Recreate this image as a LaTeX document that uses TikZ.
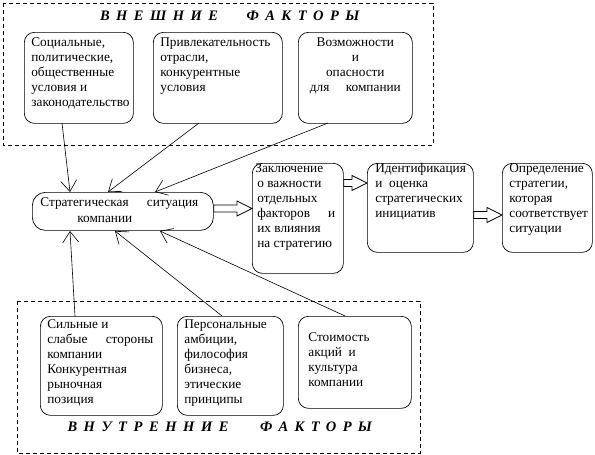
\documentclass[tikz,border=0pt]{standalone}
\usepackage{fontspec}
\setmainfont{Liberation Serif}
\usetikzlibrary{arrows.meta,calc}
\newcommand\tbox[3]{\begin{minipage}[t][#2][t]{#1}#3\end{minipage}}
\newcommand\spword[2]{\makebox[#1]{#2}}
\begin{document}
\begin{tikzpicture}[x=1pt,y=-1pt,
  box/.style={draw, rounded corners=10pt, anchor=north west, inner xsep=7pt, inner ysep=4pt, line width=0.7pt,
    font=\fontsize{13.3}{15}\selectfont},
  ttl/.style={font=\fontsize{14.5}{16}\selectfont\bfseries\itshape, inner sep=0pt},
  frame/.style={draw, dashed, dash pattern=on 4pt off 3pt, line width=0.6pt},
  link/.style={line width=0.6pt, -{Straight Barb[length=11pt,width=16pt,line width=0.6pt]}},
  blockarrow/.style={draw, line width=0.7pt, fill=white}]
\useasboundingbox (0,0) rectangle (595,455);
% frames
\draw[frame] (3,3) rectangle (433,145);
\draw[frame] (17,301) rectangle (420,453);
% titles
\node[ttl] (t1) at (159,16) {\spword{118pt}{В\hfill Н\hfill Е\hfill Ш\hfill Н\hfill И\hfill Е}};
\node[ttl] (t2) at (303,16) {\spword{113pt}{Ф\hfill А\hfill К\hfill Т\hfill О\hfill Р\hfill Ы}};
\node[ttl] (t3) at (148,427) {\spword{161pt}{В\hfill Н\hfill У\hfill Т\hfill Р\hfill Е\hfill Н\hfill Н\hfill И\hfill Е}};
\node[ttl] (t4) at (316,427) {\spword{112pt}{Ф\hfill А\hfill К\hfill Т\hfill О\hfill Р\hfill Ы}};
% external factor boxes
\node[box, inner ysep=5pt] (b1) at (24,32) {\tbox{95pt}{81pt}{Социальные,\\политические,\\общественные\\условия и\\законодательство}};
\node[box, inner ysep=5pt] (b2) at (153,32) {\tbox{115pt}{81pt}{Привлекательность\\отрасли,\\конкурентные\\условия}};
\node[box, inner ysep=5pt] (b3) at (298,32) {\tbox{100pt}{81pt}{\centering Возможности\\и\\опасности\\\makebox[91pt]{для\hfill компании}\par}};
% central box
\node[box, rounded corners=13pt, inner xsep=8pt, inner ysep=2pt] (c) at (32,192) {\tbox{165pt}{34pt}{\vspace*{3pt}\makebox[158pt]{Стратегическая\hfill ситуация}\\[1.5pt]\hspace*{37pt}компании}};
% right chain
\node[box, inner xsep=3pt, inner ysep=0pt] (d) at (252,163) {\tbox{85pt}{110pt}{Заключение\\\hspace*{2pt}о важности\\\hspace*{2pt}отдельных\\\hspace*{2pt}\makebox[78pt]{факторов\hfill и}\\\hspace*{2pt}их влияния\\\hspace*{2pt}на стратегию}};
\node[box, inner xsep=8pt, inner ysep=0pt] (e) at (367,163) {\tbox{90pt}{89pt}{Идентификация\\и\ \ оценка\\стратегических\\инициатив}};
\node[box, inner xsep=7pt, inner ysep=0pt] (f) at (502,163) {\tbox{76pt}{89pt}{Определение\\стратегии,\\которая\\соответствует\\ситуации}};
% internal factor boxes
\node[box, inner ysep=2pt] (g) at (40,316) {\tbox{108pt}{95pt}{\vspace*{1pt}Сильные и\\\makebox[106pt]{слабые\hfill стороны}\\компании\\Конкурентная\\рыночная\\позиция}};
\node[box, inner ysep=2pt] (h) at (177,316) {\tbox{92pt}{95pt}{\vspace*{1pt}Персональные\\амбиции,\\философия\\бизнеса,\\этические\\принципы}};
\node[box, inner xsep=10pt, inner ysep=2pt] (k) at (298,316) {\tbox{93pt}{88pt}{\vspace*{14pt}Стоимость\\акций\ \ и\\культура\\компании}};
% anchors for connectors
\coordinate (b1o) at (62,123);
\coordinate (b2o) at (199,123);
\coordinate (b3o) at (328,123);
\coordinate (c1) at (70,192);
\coordinate (c2) at (108,192);
\coordinate (c3) at (155,192);
\coordinate (c4) at (70,231);
\coordinate (c5) at (115,231);
\coordinate (c6) at (160,231);
\coordinate (go) at (75,316);
\coordinate (ho) at (222,316);
\coordinate (ko) at (345,316);
\draw[link] (b1o) -- (c1);
\draw[link] (b2o) -- (c2);
\draw[link] (b3o) -- (c3);
\draw[link] (go) -- (c4);
\draw[link] (ho) -- (c5);
\draw[link] (ko) -- (c6);
% block arrows
\newcommand\blockarr[3]{%
  \draw[blockarrow] let \p1=(#1.east), \p2=(#2.west) in
    (\x1,{-#3pt+3.5pt}) -- ({\x2-15pt},{-#3pt+3.5pt}) -- ({\x2-15pt},{-#3pt+7.5pt}) -- (\x2,{-#3pt})
    -- ({\x2-15pt},{-#3pt-7.5pt}) -- ({\x2-15pt},{-#3pt-3.5pt}) -- (\x1,{-#3pt-3.5pt}) -- cycle;}
\blockarr{c}{d}{208.5}
\blockarr{d}{e}{183}
\blockarr{e}{f}{215}
\end{tikzpicture}
\end{document}
